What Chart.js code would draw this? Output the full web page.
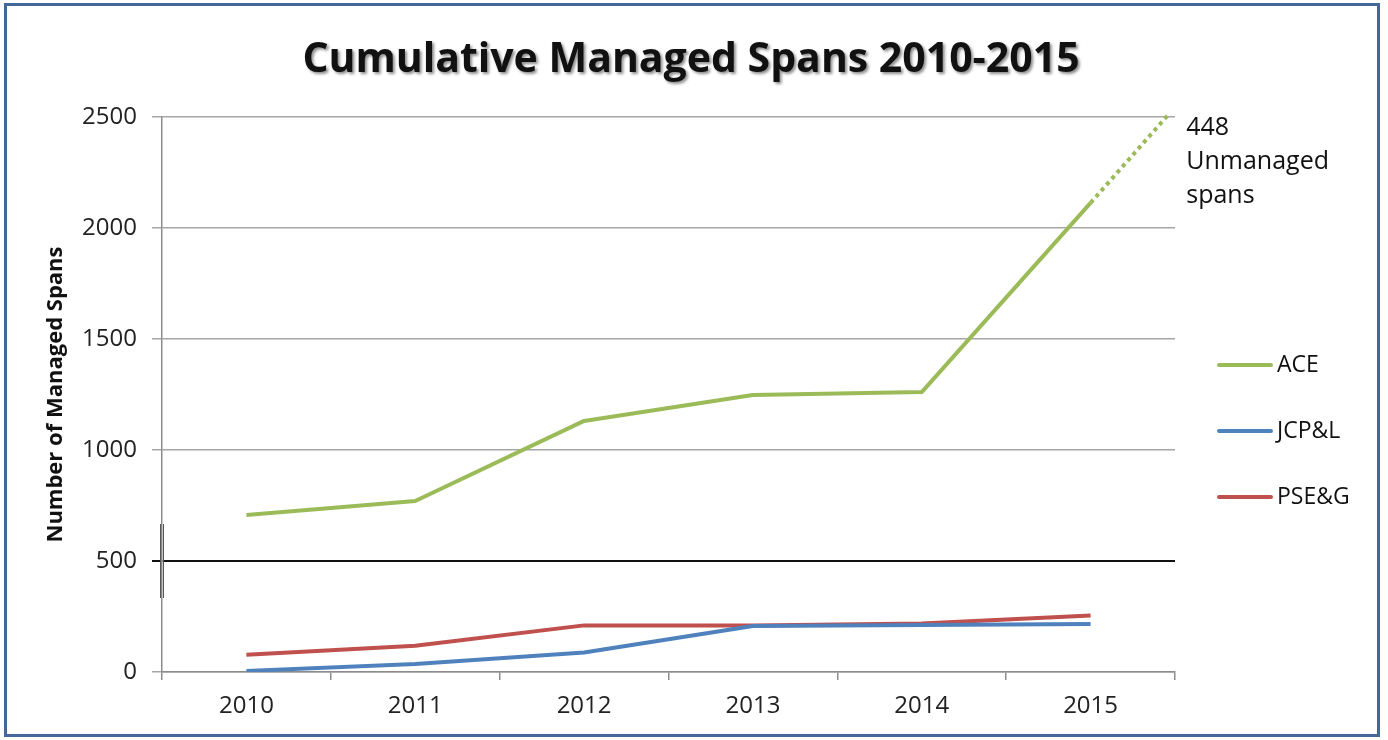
<!DOCTYPE html>
<html>
<head>
<meta charset="utf-8">
<script src="https://cdn.jsdelivr.net/npm/chart.js@4.4.1/dist/chart.umd.min.js"></script>
<style>
  html, body { margin: 0; padding: 0; background: #fff; }
  #wrap { position: relative; width: 1388px; height: 740px; }
  #chart { position: absolute; left: 0; top: 0; }
  #frame {
    position: absolute; left: 4px; top: 3px; width: 1376px; height: 734px;
    box-sizing: border-box; border: 3px solid #45679a; pointer-events: none;
  }
</style>
</head>
<body>
<div id="wrap">
  <canvas id="chart" width="1388" height="740"></canvas>
  <div id="frame"></div>
</div>
<script>
const years = ['2010', '2011', '2012', '2013', '2014', '2015'];
const ace = [707, 770, 1131, 1248, 1261, 2113];
const jcpl = [5, 36, 88, 207, 212, 216];
const pseg = [78, 118, 210, 210, 219, 255];
// dotted ACE extension (x in category index units)
const projectionX = [5, 5.46];
const projectionY = [2113, 2510];
const unmanagedNote = ['448', 'Unmanaged', 'spans'];

const GREEN = '#9bbb59';
const BLUE = '#4f81bd';
const RED = '#c0504d';
const FONT = "'Open Sans', sans-serif";

const titlePlugin = {
    id: 'shadowTitle',
    afterDraw(chart) {
        const ctx = chart.ctx;
        ctx.save();
        ctx.font = 'bold 41px ' + FONT;
        ctx.textAlign = 'center';
        ctx.textBaseline = 'middle';
        ctx.shadowColor = 'rgba(0,0,0,0.45)';
        ctx.shadowBlur = 3;
        ctx.shadowOffsetX = 2;
        ctx.shadowOffsetY = 2;
        ctx.fillStyle = '#111';
        ctx.fillText('Cumulative Managed Spans 2010-2015', chart.width / 2 - 3, 60);
        ctx.restore();
    }
};

const extrasPlugin = {
    id: 'extras',
    afterDraw(chart) {
        const ctx = chart.ctx;
        const area = chart.chartArea;
        const y = chart.scales.y;
        const x2 = chart.scales.x2;
        ctx.save();

        // axis break mark around 500
        const yb = y.getPixelForValue(500);
        ctx.strokeStyle = '#555';
        ctx.lineWidth = 1;
        [-1.5, 1.5].forEach(d => {
            ctx.beginPath();
            ctx.moveTo(area.left + d, yb - 37);
            ctx.lineTo(area.left + d, yb + 37);
            ctx.stroke();
        });

        // note next to dotted projection
        const ex = x2.getPixelForValue(projectionX[1]);
        const ey = y.getPixelForValue(projectionY[1]);
        ctx.font = '25px ' + FONT;
        ctx.fillStyle = '#111';
        ctx.textAlign = 'left';
        ctx.textBaseline = 'middle';
        unmanagedNote.forEach((t, i) => {
            ctx.fillText(t, ex + 18, ey + 13 + i * 34);
        });

        // legend
        const items = chart.data.datasets.filter(d => !d.projection);
        ctx.font = '23px ' + FONT;
        ctx.lineCap = 'round';
        items.forEach((d, i) => {
            const ly = 365 + i * 66;
            ctx.strokeStyle = d.borderColor;
            ctx.lineWidth = 4;
            ctx.beginPath();
            ctx.moveTo(area.right + 44, ly);
            ctx.lineTo(area.right + 96, ly);
            ctx.stroke();
            ctx.fillStyle = '#111';
            ctx.fillText(d.label, area.right + 102, ly);
        });
        ctx.restore();
    }
};

const lineStyle = { borderWidth: 4, pointRadius: 0, tension: 0, borderJoinStyle: 'round', fill: false };

new Chart(document.getElementById('chart'), {
    type: 'line',
    data: {
        labels: years,
        datasets: [
            Object.assign({ label: 'ACE', data: ace, borderColor: GREEN }, lineStyle),
            Object.assign({ label: 'JCP&L', data: jcpl, borderColor: BLUE }, lineStyle),
            Object.assign({ label: 'PSE&G', data: pseg, borderColor: RED }, lineStyle),
            {
                label: 'ACE projection',
                projection: true,
                xAxisID: 'x2',
                data: projectionX.map((x, i) => ({ x: x, y: projectionY[i] })),
                borderColor: GREEN,
                borderWidth: 4,
                borderDash: [4, 4],
                pointRadius: 0,
                clip: false
            }
        ]
    },
    options: {
        responsive: false,
        animation: false,
        devicePixelRatio: 1,
        layout: { padding: { top: 117, right: 213, bottom: 0, left: 0 } },
        plugins: {
            legend: { display: false },
            title: { display: false },
            tooltip: { enabled: false }
        },
        scales: {
            x: {
                offset: true,
                grid: { drawOnChartArea: false, offset: true, tickLength: 8, color: '#8c8c8c', lineWidth: 1.5 },
                border: { color: '#8c8c8c', width: 1.5 },
                ticks: { font: { family: FONT, size: 24 }, color: '#222', padding: 12 },
                afterFit: s => { s.height = 68; }
            },
            x2: { type: 'linear', display: false, min: -0.5, max: 5.5 },
            y: {
                min: 0,
                max: 2500,
                ticks: {
                    stepSize: 500,
                    font: { family: FONT, size: 24 },
                    color: '#222',
                    padding: 15,
                    callback: v => String(v)
                },
                grid: {
                    tickLength: 10,
                    color: c => (c.tick && c.tick.value === 500 ? '#111' : '#a6a6a6'),
                    lineWidth: c => (c.tick && c.tick.value === 500 ? 2 : 1.5)
                },
                border: { color: '#8c8c8c', width: 1.5 },
                title: {
                    display: true,
                    text: 'Number of Managed Spans',
                    font: { family: FONT, size: 22, weight: 'bold' },
                    color: '#111',
                    padding: { top: 43, bottom: 0 }
                },
                afterFit: s => { s.width = 162; }
            }
        }
    },
    plugins: [titlePlugin, extrasPlugin]
});
</script>
</body>
</html>
